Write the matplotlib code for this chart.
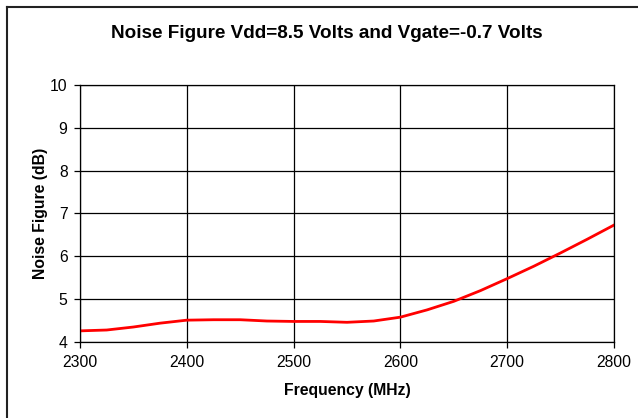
import matplotlib
matplotlib.use("Agg")
import matplotlib.pyplot as plt
from matplotlib.lines import Line2D

plt.rcParams['font.family'] = ['Liberation Sans', 'DejaVu Sans']

# frequency (MHz) and noise figure (dB)
freq = [2300, 2325, 2350, 2375, 2400, 2425, 2450, 2475, 2500, 2525, 2550,
        2575, 2600, 2625, 2650, 2675, 2700, 2725, 2750, 2775, 2800]
nf = [4.26, 4.28, 4.35, 4.44, 4.51, 4.52, 4.52, 4.49, 4.48, 4.48, 4.46,
      4.49, 4.58, 4.75, 4.95, 5.20, 5.48, 5.77, 6.08, 6.40, 6.73]

x_ticks = [2300, 2400, 2500, 2600, 2700, 2800]
y_ticks = [4, 5, 6, 7, 8, 9, 10]

fig = plt.figure(figsize=(6.38, 4.18), dpi=100)
ax = fig.add_axes([0.1254, 0.1818, 0.8370, 0.6149])

ax.plot(freq, nf, color='#ff0000', linewidth=2)

ax.set_xlim(2300, 2800)
ax.set_ylim(4, 10)
ax.set_xticks(x_ticks)
ax.set_yticks(y_ticks)
ax.grid(True, color='black', linewidth=0.9)
ax.set_axisbelow(True)
for s in ax.spines.values():
    s.set_color('black')
    s.set_linewidth(0.9)
ax.tick_params(direction='out', length=4, width=0.9, labelsize=11.3, pad=5)

ax.set_xlabel('Frequency (MHz)', fontsize=11.3, fontweight='bold', labelpad=10)
ax.set_ylabel('Noise Figure (dB)', fontsize=11.3, fontweight='bold', labelpad=1.5)
fig.text(0.513, 0.921, 'Noise Figure Vdd=8.5 Volts and Vgate=-0.7 Volts',
         ha='center', va='center', fontsize=13.6, fontweight='bold')

# outer chart border (top and left edges visible)
fig.add_artist(Line2D([0.011, 1.0], [0.984, 0.984], color='#222222', linewidth=1.5,
                      transform=fig.transFigure))
fig.add_artist(Line2D([0.011, 0.011], [0.0, 0.984], color='#222222', linewidth=1.5,
                      transform=fig.transFigure))

fig.savefig('out.png', dpi=100)
